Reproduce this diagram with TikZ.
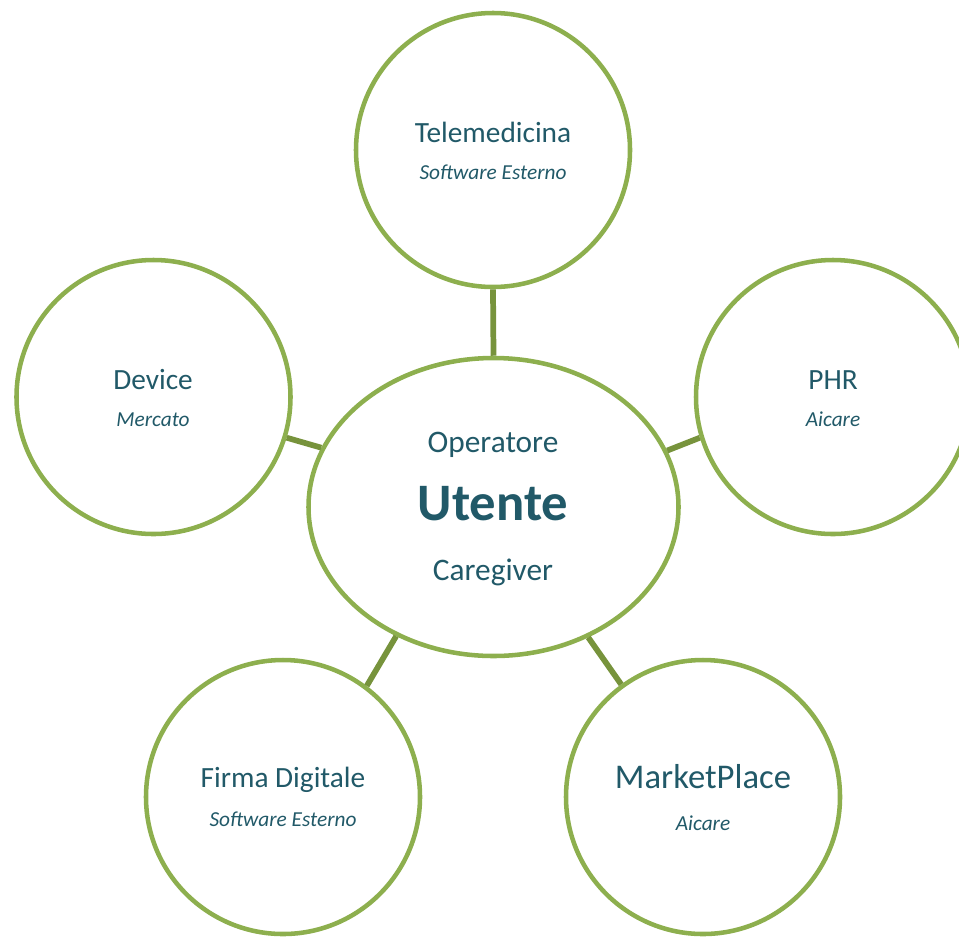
\documentclass[tikz,border=0pt]{standalone}
\usepackage{fontspec}
\setmainfont{Carlito}
\usetikzlibrary{shapes.geometric}
\definecolor{ring}{HTML}{8DAF4E}
\definecolor{link}{HTML}{77933C}
\definecolor{txt}{HTML}{215968}
\begin{document}
\begin{tikzpicture}[x=0.75pt,y=-0.75pt,
  ringc/.style={draw=ring,line width=3.4pt,circle,minimum size=205.5pt,inner sep=0pt},
  ringe/.style={draw=ring,line width=3.4pt,ellipse,minimum width=277.5pt,minimum height=223.5pt,inner sep=0pt},
  linkl/.style={draw=link,line width=4.3pt},
  lab/.style={text=txt,anchor=base,inner sep=0pt,font=\fontsize{22}{26}\selectfont},
  sub/.style={text=txt,anchor=base,inner sep=0pt,font=\fontsize{16}{19}\selectfont\itshape}]
\useasboundingbox (0,0) rectangle (959,936);
\begin{scope}
\clip (0,0) rectangle (959,936);
\node[ringc] (tele) at (493,150) {};
\node[ringc] (dev) at (153.5,397) {};
\node[ringc] (phr) at (833,397) {};
\node[ringc] (firma) at (283,797) {};
\node[ringc] (mkt) at (703,797) {};
\node[ringe] (u) at (493.5,507) {};
\end{scope}
% connectors
\draw[linkl] (tele.-90) -- (u.90);
\draw[linkl] (dev.-17.7) -- (u.161.9);
\draw[linkl] (phr.197.7) -- (u.18.1);
\draw[linkl] (firma.53.8) -- (u.233.8);
\draw[linkl] (mkt.126.2) -- (u.306.2);
% texts
\node[lab] (t1) at (493,142) {Telemedicina};
\node[sub] (s1) at (493,179) {Software Esterno};
\node[lab] (t2) at (153,389) {Device};
\node[sub] (s2) at (153,426) {Mercato};
\node[lab] (t3) at (833,389) {PHR};
\node[sub] (s3) at (833,426) {Aicare};
\node[lab] (t4) at (283,787) {Firma Digitale};
\node[sub] (s4) at (283,826) {Software Esterno};
\node[lab,font=\fontsize{26}{30}\selectfont] (t5) at (703,788) {MarketPlace};
\node[sub] (s5) at (703,830) {Aicare};
\node[lab,font=\fontsize{23.5}{28}\selectfont] (op) at (493,452) {Operatore};
\node[lab,font=\fontsize{39.5}{44}\selectfont\bfseries] (ut) at (493,520) {Utente};
\node[lab,font=\fontsize{23.5}{28}\selectfont] (cg) at (493,580) {Caregiver};
\end{tikzpicture}
\end{document}
